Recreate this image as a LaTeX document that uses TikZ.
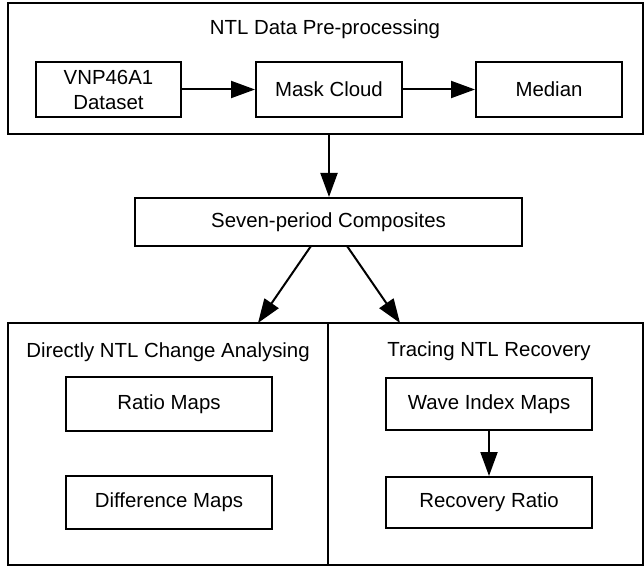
\documentclass[tikz,border=0pt]{standalone}
\usepackage{fontspec}
\setmainfont{Liberation Sans}
\usetikzlibrary{arrows.meta}
\begin{document}
\begin{tikzpicture}[x=1pt,y=-1pt,
  txt/.style={font=\fontsize{20.4}{25}\selectfont},
  stepbox/.style={txt, draw, line width=2pt, inner sep=0pt, align=center,
    minimum width=146pt, minimum height=55pt},
  panel/.style={draw, line width=2pt, inner sep=0pt},
  flow/.style={-{Triangle[length=24pt,width=17pt]}, line width=2pt}]
\useasboundingbox (0,0) rectangle (644,569);

% panels
\node[panel, minimum width=634.5pt, minimum height=131pt] (pre) at (325.25,68.5) {};
\node[panel, minimum width=320pt, minimum height=242pt] (direct) at (168,444) {};
\node[panel, minimum width=314.5pt, minimum height=242pt] (trace) at (485.25,444) {};

% panel titles
\node[txt] (pretitle) at (325,29) {NTL Data Pre-processing};
\node[txt] (directtitle) at (168,352) {Directly NTL Change Analysing};
\node[txt] (tracetitle) at (489,351) {Tracing NTL Recovery};

% pre-processing steps
\node[stepbox, minimum width=145pt] (vnp) at (108.5,89.5) {VNP46A1\\Dataset};
\node[stepbox] (mask) at (329,89.5) {Mask Cloud};
\node[stepbox] (median) at (549,89.5) {Median};

% composites
\node[stepbox, minimum width=387pt, minimum height=48pt] (seven) at (328.5,222) {Seven-period Composites};

% analysis steps
\node[stepbox, minimum width=206pt, minimum height=54pt] (ratio) at (169,404) {Ratio Maps};
\node[stepbox, minimum width=206pt, minimum height=53pt] (diff) at (169,502.5) {Difference Maps};
\node[stepbox, minimum width=206pt, minimum height=52pt] (wave) at (489,404) {Wave Index Maps};
\node[stepbox, minimum width=206pt, minimum height=51pt] (recov) at (489,502.5) {Recovery Ratio};

% arrow end points
\coordinate (preout) at (329,134);
\coordinate (sevenL) at (311,246);
\coordinate (sevenR) at (347,246);
\coordinate (directin) at (258,323);
\coordinate (tracein) at (400,323);

% connectors
\draw[flow] (vnp) -- (mask);
\draw[flow] (mask) -- (median);
\draw[flow] (preout) -- (seven.north -| preout);
\draw[flow] (sevenL) -- (directin);
\draw[flow] (sevenR) -- (tracein);
\draw[flow] (wave) -- (recov);
\end{tikzpicture}
\end{document}
